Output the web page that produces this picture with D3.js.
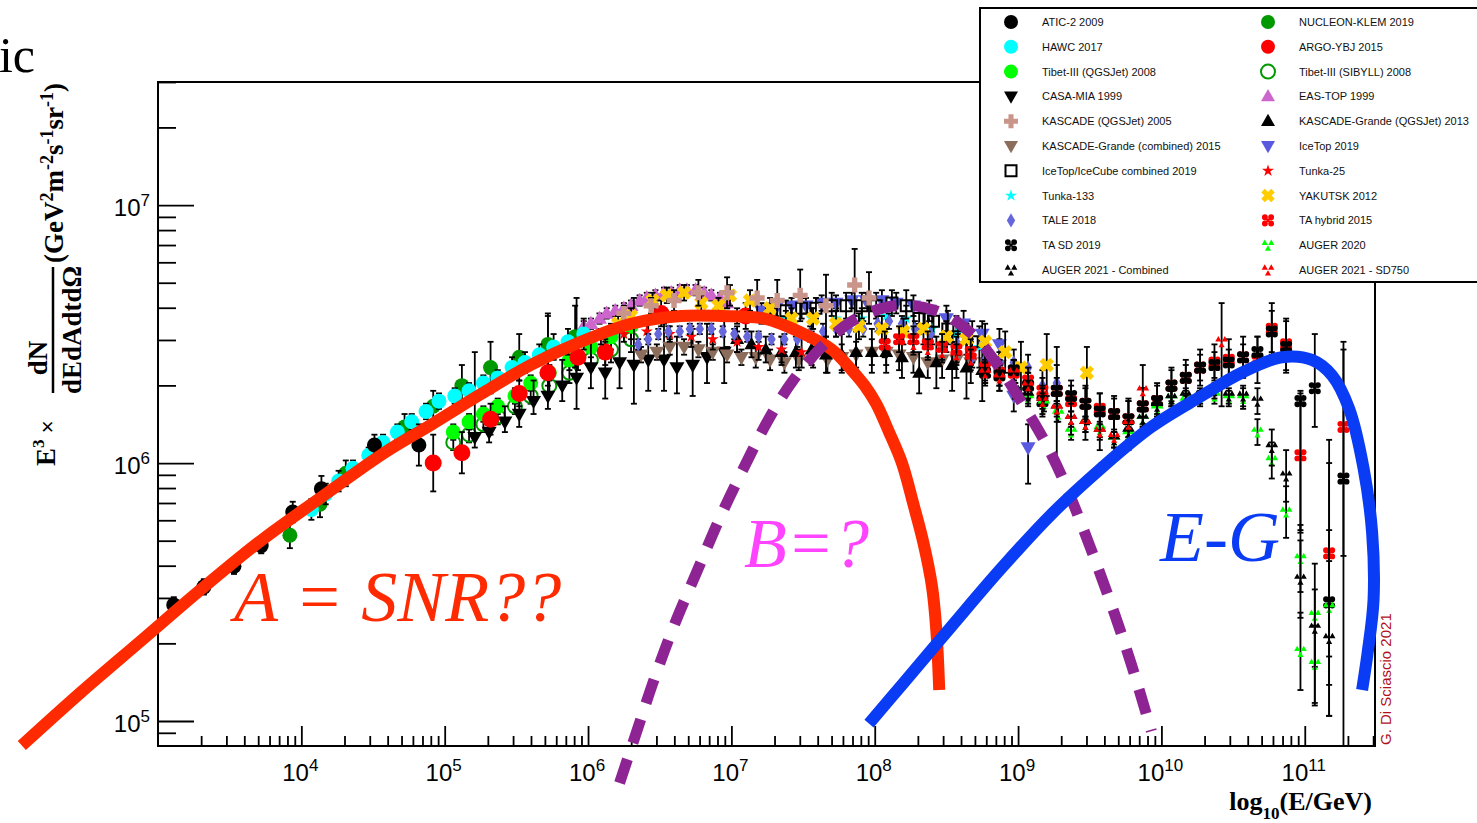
<!DOCTYPE html>
<html>
<head>
<meta charset="utf-8">
<script src="https://cdn.jsdelivr.net/npm/d3@7"></script>
<style>
  body { margin: 0; background: #fff; }
  svg { display: block; font-family: 'Liberation Sans', Arial, sans-serif; }
</style>
</head>
<body>
<svg id="chart" width="1477" height="823"></svg>
<script>
'use strict'

// every point: [log10(E/GeV), log10(E^3 flux), error down, error up]  (errors in dex)
var atic2009 = [[3.11,5.45,.03,.03],[3.32,5.52,.03,.03],[3.53,5.60,.03,.03],[3.72,5.68,.03,.03],[3.94,5.81,.04,.04],[4.14,5.90,.05,.05],[4.51,6.07,.04,.04],[4.82,6.07,.08,.08]];
var nucleon2019 = [[3.92,5.72,.05,.05],[4.13,5.84,.05,.05],[4.31,5.96,.05,.05],[4.72,6.14,.05,.05],[4.92,6.22,.06,.06],[5.12,6.30,.08,.08],[5.32,6.37,.1,.1],[5.52,6.41,.09,.09],[5.72,6.46,.11,.11],[5.91,6.49,.12,.12]];
var hawc2017 = [[4.07,5.82,.04,.04],[4.17,5.88,.04,.04],[4.26,5.93,.04,.04],[4.36,5.98,.03,.03],[4.47,6.03,.03,.03],[4.57,6.08,.03,.03],[4.67,6.12,.03,.03],[4.77,6.16,.03,.03],[4.87,6.20,.03,.03],[4.96,6.24,.03,.03],[5.07,6.26,.03,.03],[5.17,6.28,.03,.03],[5.27,6.31,.03,.03],[5.37,6.33,.03,.03],[5.47,6.37,.04,.04],[5.56,6.39,.04,.04],[5.66,6.42,.04,.04],[5.76,6.45,.05,.05],[5.86,6.47,.05,.05],[5.97,6.50,.06,.06]];
var argo2015 = [[4.92,6.00,.11,.11],[5.12,6.04,.08,.08],[5.32,6.17,.06,.06],[5.52,6.27,.05,.05],[5.72,6.35,.05,.05],[5.93,6.41,.05,.05],[6.12,6.43,.05,.05],[6.51,6.58,.05,.05],[7.10,6.57,.05,.05]];
var tibetQgs2008 = [[5.06,6.12,.03,.03],[5.17,6.16,.03,.03],[5.27,6.19,.03,.03],[5.37,6.22,.03,.03],[5.49,6.26,.03,.03],[5.60,6.31,.03,.03],[5.73,6.35,.03,.03],[5.87,6.40,.04,.04],[6.02,6.45,.04,.04],[6.16,6.49,.05,.05],[6.30,6.53,.05,.05]];
var tibetSib2008 = [[5.06,6.08,.03,.03],[5.17,6.11,.03,.03],[5.27,6.15,.03,.03],[5.37,6.18,.03,.03],[5.49,6.22,.03,.03],[5.60,6.26,.03,.03],[5.73,6.30,.03,.03],[5.87,6.35,.04,.04],[6.02,6.40,.04,.04],[6.16,6.44,.05,.05],[6.30,6.48,.05,.05]];
var casa1999 = [[5.21,6.10,.04,.33],[5.31,6.12,.04,.06],[5.42,6.16,.04,.06],[5.52,6.19,.05,.07],[5.62,6.24,.05,.08],[5.72,6.26,.05,.32],[5.82,6.30,.06,.1],[5.92,6.33,.12,.31],[6.02,6.37,.08,.1],[6.12,6.35,.1,.12],[6.22,6.39,.1,.12],[6.32,6.38,.15,.26],[6.42,6.40,.12,.15],[6.53,6.40,.12,.14],[6.62,6.37,.1,.12],[6.73,6.38,.12,.14],[6.83,6.41,.1,.13],[6.95,6.43,.12,.15]];
var eastop1999 = [[5.97,6.53,.02,.02],[6.02,6.54,.02,.02],[6.08,6.56,.02,.02],[6.13,6.58,.02,.02],[6.19,6.59,.02,.02],[6.25,6.60,.02,.02],[6.30,6.61,.02,.02],[6.36,6.63,.02,.02],[6.41,6.64,.02,.02],[6.47,6.65,.02,.02],[6.53,6.66,.02,.02],[6.58,6.66,.02,.02],[6.64,6.67,.02,.02],[6.69,6.67,.02,.02],[6.75,6.67,.02,.02],[6.81,6.66,.02,.02],[6.86,6.65,.02,.02],[6.92,6.64,.02,.02],[6.97,6.62,.02,.02]];
var kascade2005 = [[6.25,6.58,.03,.03],[6.44,6.61,.03,.03],[6.60,6.63,.04,.04],[6.77,6.66,.05,.05],[6.97,6.66,.06,.06],[7.18,6.64,.07,.07],[7.32,6.63,.08,.08],[7.48,6.65,.1,.1],[7.66,6.61,.12,.12],[7.86,6.69,.12,.14],[7.96,6.64,.1,.1]];
var kgQgs2013 = [[7.04,6.48,.05,.05],[7.14,6.46,.05,.05],[7.24,6.44,.05,.05],[7.35,6.43,.05,.06],[7.45,6.43,.06,.06],[7.56,6.44,.06,.07],[7.66,6.42,.07,.07],[7.77,6.42,.07,.08],[7.87,6.43,.08,.08],[7.98,6.43,.08,.09],[8.08,6.43,.08,.09],[8.19,6.41,.08,.1],[8.31,6.35,.08,.08],[8.43,6.39,.1,.1],[8.54,6.38,.1,.12],[8.64,6.37,.12,.12],[8.75,6.36,.12,.14]];
var kgComb2015 = [[6.37,6.42,.03,.03],[6.48,6.43,.03,.03],[6.57,6.45,.03,.03],[6.67,6.45,.03,.03],[6.77,6.44,.03,.03],[6.87,6.43,.03,.03],[6.97,6.42,.03,.03],[7.07,6.41,.03,.03],[7.17,6.41,.04,.04],[7.27,6.40,.04,.04],[7.37,6.39,.04,.04],[7.47,6.40,.04,.04],[7.57,6.41,.04,.04],[7.67,6.40,.05,.05],[7.77,6.41,.05,.05],[7.87,6.42,.05,.05],[7.98,6.43,.05,.05],[8.08,6.43,.05,.05],[8.17,6.42,.06,.06],[8.27,6.41,.06,.06],[8.37,6.39,.06,.06],[8.47,6.40,.07,.07],[8.57,6.40,.07,.07],[8.67,6.39,.08,.08],[8.77,6.39,.09,.09],[8.87,6.38,.1,.1]];
var icetop2019 = [[7.21,6.59,.03,.03],[7.31,6.60,.03,.03],[7.42,6.61,.03,.03],[7.52,6.61,.03,.03],[7.63,6.62,.03,.03],[7.73,6.62,.03,.03],[7.84,6.63,.03,.03],[7.94,6.63,.03,.03],[8.05,6.63,.04,.04],[8.15,6.62,.04,.04],[8.27,6.61,.04,.04],[8.38,6.59,.04,.04],[8.50,6.56,.05,.05],[8.62,6.54,.05,.05],[8.75,6.50,.05,.05],[8.87,6.46,.06,.06],[8.97,6.26,.06,.06],[9.07,6.06,.14,.09]];
var icecube2019 = [[7.28,6.58,.04,.04],[7.38,6.59,.04,.04],[7.49,6.60,.04,.04],[7.59,6.60,.04,.04],[7.70,6.61,.04,.05],[7.80,6.61,.05,.05],[7.91,6.61,.05,.05],[8.01,6.61,.05,.05],[8.12,6.62,.05,.05],[8.22,6.61,.05,.06],[8.31,6.56,.06,.06],[8.41,6.55,.06,.06],[8.51,6.52,.06,.07],[8.58,6.49,.07,.07],[8.68,6.47,.08,.08]];
var tunka25 = [[6.09,6.49,.03,.03],[6.25,6.50,.03,.03],[6.41,6.51,.03,.03],[6.57,6.50,.03,.03],[6.72,6.49,.04,.04],[6.87,6.48,.04,.04],[7.04,6.47,.04,.04],[7.19,6.45,.05,.05],[7.35,6.44,.05,.05],[7.49,6.43,.06,.06]];
var tunka133 = [[7.04,6.57,.03,.03],[7.21,6.57,.03,.03],[7.38,6.56,.03,.03],[7.56,6.56,.04,.04],[7.73,6.56,.04,.04],[7.91,6.56,.04,.04],[8.08,6.57,.05,.05],[8.22,6.56,.05,.05],[8.40,6.52,.06,.06],[8.57,6.50,.07,.07],[8.73,6.45,.08,.08]];
var yakutsk2012 = [[6.21,6.54,.03,.03],[6.30,6.57,.03,.03],[6.45,6.63,.03,.03],[6.55,6.65,.03,.03],[6.67,6.66,.03,.03],[6.79,6.62,.03,.03],[6.91,6.61,.03,.03],[6.99,6.65,.04,.04],[7.13,6.63,.04,.04],[7.27,6.60,.04,.04],[7.42,6.56,.04,.04],[7.57,6.56,.04,.04],[7.73,6.54,.05,.05],[7.89,6.53,.05,.05],[8.05,6.52,.05,.05],[8.20,6.51,.05,.05],[8.34,6.52,.06,.06],[8.50,6.49,.06,.06],[8.64,6.48,.06,.06],[8.77,6.47,.07,.07],[8.91,6.43,.08,.08],[9.02,6.37,.1,.1],[9.20,6.38,.12,.12],[9.48,6.35,.2,.1]];
var tale2018 = [[6.35,6.46,.02,.02],[6.42,6.48,.02,.02],[6.49,6.50,.02,.02],[6.56,6.51,.02,.02],[6.64,6.51,.02,.02],[6.71,6.52,.02,.02],[6.78,6.52,.02,.02],[6.86,6.52,.02,.02],[6.94,6.51,.02,.02],[7.02,6.50,.02,.02],[7.11,6.49,.02,.02],[7.19,6.49,.02,.02],[7.28,6.48,.02,.02],[7.37,6.48,.02,.02],[7.46,6.48,.03,.03],[7.55,6.50,.03,.03],[7.64,6.51,.03,.03],[7.73,6.52,.03,.03],[7.82,6.52,.03,.03],[7.92,6.52,.03,.03],[8.02,6.54,.03,.03],[8.10,6.55,.03,.03],[8.19,6.54,.03,.03],[8.28,6.52,.03,.03],[8.39,6.50,.03,.03],[8.49,6.48,.03,.03],[8.58,6.46,.04,.04],[8.68,6.41,.04,.04],[8.77,6.40,.04,.04],[8.87,6.39,.04,.04],[8.97,6.39,.05,.05],[9.07,6.37,.05,.05],[9.17,6.30,.06,.06],[9.27,6.31,.07,.07]];
var taHybrid2015 = [[8.07,6.46,.05,.05],[8.17,6.48,.05,.05],[8.27,6.48,.05,.05],[8.37,6.46,.05,.05],[8.47,6.45,.05,.05],[8.57,6.44,.05,.05],[8.67,6.43,.05,.05],[8.77,6.37,.05,.05],[8.87,6.35,.05,.05],[8.97,6.35,.05,.05],[9.07,6.32,.05,.05],[9.17,6.28,.05,.05],[9.27,6.28,.05,.05],[9.37,6.24,.06,.06],[9.47,6.23,.06,.06],[9.57,6.21,.06,.06],[9.67,6.19,.06,.06],[9.77,6.17,.07,.07],[9.87,6.22,.07,.07],[9.97,6.24,.07,.07],[10.07,6.30,.07,.07],[10.17,6.33,.07,.07],[10.27,6.37,.07,.07],[10.37,6.39,.07,.07],[10.47,6.40,.08,.08],[10.57,6.41,.08,.08],[10.67,6.40,.09,.09],[10.77,6.52,.1,.1],[10.87,6.46,.1,.1],[10.97,6.03,.3,.25],[11.17,5.65,.4,.35],[11.27,6.14,.5,.3]];
var taSd2019 = [[8.77,6.35,.04,.04],[8.87,6.34,.04,.04],[8.97,6.36,.04,.04],[9.07,6.30,.05,.05],[9.17,6.24,.06,.06],[9.27,6.28,.28,.17],[9.37,6.26,.06,.06],[9.47,6.23,.07,.07],[9.57,6.20,.07,.07],[9.67,6.19,.07,.07],[9.77,6.17,.07,.07],[9.87,6.22,.07,.07],[9.97,6.24,.06,.06],[10.07,6.30,.06,.06],[10.17,6.33,.05,.05],[10.27,6.37,.05,.05],[10.37,6.38,.05,.05],[10.47,6.39,.05,.05],[10.57,6.41,.05,.05],[10.67,6.43,.06,.06],[10.77,6.51,.08,.08],[10.87,6.45,.1,.1],[10.97,6.24,.5,.03],[11.07,6.29,.15,.21],[11.17,5.46,.44,.63],[11.27,5.94,1.1,.53]];
var auger2020 = [[8.98,6.28,.03,.03],[9.07,6.25,.03,.03],[9.18,6.23,.03,.03],[9.28,6.19,.03,.03],[9.37,6.12,.03,.03],[9.47,6.15,.03,.03],[9.57,6.13,.03,.03],[9.67,6.09,.03,.03],[9.77,6.11,.03,.03],[9.87,6.17,.03,.03],[9.97,6.21,.03,.03],[10.07,6.25,.03,.03],[10.17,6.24,.03,.03],[10.27,6.25,.03,.03],[10.37,6.26,.03,.03],[10.47,6.25,.03,.03],[10.57,6.25,.04,.04],[10.67,6.12,.05,.05],[10.77,6.01,.07,.07],[10.87,5.81,.1,.1],[10.97,5.63,.13,.13],[11.07,5.41,.2,.2],[11.17,5.44,.3,.3],[10.97,5.27,.15,.15],[11.07,5.22,.15,.15]];
var auger2021 = [[8.98,6.28,.03,.03],[9.07,6.26,.03,.03],[9.17,6.24,.03,.03],[9.27,6.21,.03,.03],[9.37,6.17,.03,.03],[9.47,6.15,.03,.03],[9.57,6.12,.03,.03],[9.67,6.09,.03,.03],[9.77,6.12,.03,.03],[9.87,6.17,.03,.03],[9.97,6.22,.03,.03],[10.07,6.25,.03,.03],[10.17,6.26,.03,.03],[10.27,6.26,.03,.03],[10.37,6.28,.03,.03],[10.47,6.26,.03,.03],[10.57,6.26,.04,.04],[10.67,6.24,.05,.05],[10.77,6.06,.07,.07],[10.87,5.95,.1,.1],[10.97,5.55,.15,.15],[11.07,5.36,.3,.15],[11.17,5.32,.3,.3]];
var augerSd750 = [[8.27,6.46,.04,.04],[8.37,6.44,.04,.04],[8.47,6.43,.04,.04],[8.57,6.42,.04,.04],[8.67,6.40,.04,.04],[8.77,6.35,.04,.04],[8.87,6.33,.05,.05],[8.97,6.35,.05,.05],[9.07,6.30,.05,.05],[9.17,6.24,.05,.05],[9.27,6.21,.05,.05],[9.37,6.17,.06,.06],[9.47,6.15,.06,.06],[9.57,6.12,.07,.07],[9.67,6.10,.08,.08],[9.77,6.15,.1,.1],[9.87,6.28,.1,.1],[10.42,6.47,.25,.15]];

// hand drawn model curves, [log10 E, log10 flux]
var curveSNR = [[2.05,4.905],[2.46,5.11],[2.88,5.31],[3.30,5.51],[3.72,5.70],[4.12,5.86],[4.58,6.04],[4.91,6.15],[5.26,6.27],[5.60,6.38],[5.95,6.47],[6.30,6.54],[6.65,6.57],[6.93,6.57],[7.23,6.56],[7.47,6.51],[7.70,6.44],[7.84,6.36],[7.93,6.30],[8.01,6.23],[8.10,6.12],[8.19,6.00],[8.27,5.84],[8.34,5.69],[8.40,5.52],[8.43,5.35],[8.45,5.12]];
var curveB = [[6.22,4.76],[6.34,4.96],[6.46,5.16],[6.60,5.37],[6.76,5.58],[6.93,5.80],[7.13,6.03],[7.26,6.17],[7.43,6.32],[7.63,6.45],[7.84,6.55],[8.14,6.61],[8.43,6.59],[8.68,6.50],[8.87,6.37],[9.02,6.24],[9.18,6.09],[9.32,5.93],[9.43,5.78],[9.54,5.62],[9.67,5.42],[9.79,5.22],[9.93,4.96]];
var curveEG = [[7.96,4.99],[8.19,5.14],[8.54,5.37],[8.88,5.59],[9.23,5.80],[9.58,5.98],[9.93,6.14],[10.28,6.26],[10.56,6.35],[10.84,6.41],[11.05,6.40],[11.19,6.34],[11.31,6.21],[11.41,5.98],[11.47,5.73],[11.48,5.47],[11.44,5.27],[11.40,5.12]];

var xTickExp = [4, 5, 6, 7, 8, 9, 10, 11];
var yTickExp = [5, 6, 7];

var legendCol1 = ['ATIC-2 2009', 'HAWC 2017', 'Tibet-III (QGSJet) 2008', 'CASA-MIA 1999', 'KASCADE (QGSJet) 2005',
  'KASCADE-Grande (combined) 2015', 'IceTop/IceCube combined 2019', 'Tunka-133', 'TALE 2018', 'TA SD 2019', 'AUGER 2021 - Combined'];
var legendCol2 = ['NUCLEON-KLEM 2019', 'ARGO-YBJ 2015', 'Tibet-III (SIBYLL) 2008', 'EAS-TOP 1999', 'KASCADE-Grande (QGSJet) 2013',
  'IceTop 2019', 'Tunka-25', 'YAKUTSK 2012', 'TA hybrid 2015', 'AUGER 2020', 'AUGER 2021 - SD750'];

// drawing order (later on top)
var series = [
  {name: 'EAS-TOP 1999', data: eastop1999, sym: 'tri', color: '#cc66cc', size: 15},
  {name: 'Tibet-III (SIBYLL) 2008', data: tibetSib2008, sym: 'ring', color: '#009900', size: 14},
  {name: 'Tibet-III (QGSJet) 2008', data: tibetQgs2008, sym: 'circle', color: '#00ff00', size: 15},
  {name: 'CASA-MIA 1999', data: casa1999, sym: 'tridown', color: '#000000', size: 15},
  {name: 'NUCLEON-KLEM 2019', data: nucleon2019, sym: 'circle', color: '#009900', size: 15},
  {name: 'HAWC 2017', data: hawc2017, sym: 'circle', color: '#00ffff', size: 15},
  {name: 'ATIC-2 2009', data: atic2009, sym: 'circle', color: '#000000', size: 15},
  {name: 'ARGO-YBJ 2015', data: argo2015, sym: 'circle', color: '#ff0000', size: 17},
  {name: 'KASCADE-Grande (combined) 2015', data: kgComb2015, sym: 'tridown', color: '#8c6d5c', size: 15},
  {name: 'KASCADE-Grande (QGSJet) 2013', data: kgQgs2013, sym: 'tri', color: '#000000', size: 14},
  {name: 'Tunka-25', data: tunka25, sym: 'star', color: '#ff0000', size: 10},
  {name: 'Tunka-133', data: tunka133, sym: 'star', color: '#00ffff', size: 10},
  {name: 'IceTop 2019', data: icetop2019, sym: 'tridown', color: '#5a5ae0', size: 15},
  {name: 'IceTop/IceCube combined 2019', data: icecube2019, sym: 'square', color: '#000000', size: 11},
  {name: 'TALE 2018', data: tale2018, sym: 'diamond', color: '#6666dd', size: 12},
  {name: 'YAKUTSK 2012', data: yakutsk2012, sym: 'xcross', color: '#ffcc00', size: 15},
  {name: 'KASCADE (QGSJet) 2005', data: kascade2005, sym: 'cross', color: '#c9958a', size: 15},
  {name: 'TA hybrid 2015', data: taHybrid2015, sym: 'clover', color: '#ff0000', size: 13},
  {name: 'TA SD 2019', data: taSd2019, sym: 'clover', color: '#000000', size: 13},
  {name: 'AUGER 2020', data: auger2020, sym: 'tri3', color: '#00ff00', size: 13},
  {name: 'AUGER 2021 - Combined', data: auger2021, sym: 'tri3', color: '#000000', size: 13},
  {name: 'AUGER 2021 - SD750', data: augerSd750, sym: 'tri3', color: '#ff0000', size: 13}
];

var svg = d3.select('#chart');
var frame = {left: 158, right: 1375, top: 82, bottom: 746};

var x = d3.scaleLog().domain([1e3, Math.pow(10, 11.49)]).range([frame.left, frame.right]);
var y = d3.scaleLog().domain([8e4, 3e7]).range([frame.bottom, frame.top]);

function circ(cx, cy, r) {
  return 'M' + (cx + r) + ',' + cy + 'A' + r + ',' + r + ' 0 1,1 ' + (cx - r) + ',' + cy +
         'A' + r + ',' + r + ' 0 1,1 ' + (cx + r) + ',' + cy + 'Z';
}
function triUp(cx, cy, a) {
  var h = a * 0.87;
  return 'M' + cx + ',' + (cy - h * 0.6) + 'L' + (cx + a / 2) + ',' + (cy + h * 0.4) + 'L' + (cx - a / 2) + ',' + (cy + h * 0.4) + 'Z';
}
function symPath(sym, s) {
  var r = s / 2;
  if (sym === 'circle' || sym === 'ring') return circ(0, 0, r);
  if (sym === 'tri') return 'M0,' + (-r * 1.05) + 'L' + r + ',' + (r * 0.7) + 'L' + (-r) + ',' + (r * 0.7) + 'Z';
  if (sym === 'tridown') return 'M0,' + (r * 1.05) + 'L' + r + ',' + (-r * 0.7) + 'L' + (-r) + ',' + (-r * 0.7) + 'Z';
  if (sym === 'diamond') return 'M0,' + (-r * 1.2) + 'L' + (r * 0.7) + ',0L0,' + (r * 1.2) + 'L' + (-r * 0.7) + ',0Z';
  if (sym === 'square') return 'M' + (-r) + ',' + (-r) + 'h' + s + 'v' + s + 'h' + (-s) + 'Z';
  if (sym === 'cross' || sym === 'xcross') {
    var t = r * 0.36;
    return 'M' + (-t) + ',' + (-r) + 'H' + t + 'V' + (-t) + 'H' + r + 'V' + t + 'H' + t + 'V' + r +
           'H' + (-t) + 'V' + t + 'H' + (-r) + 'V' + (-t) + 'H' + (-t) + 'Z';
  }
  if (sym === 'star') return d3.symbol(d3.symbolStar, s * s * 0.45)();
  if (sym === 'clover') {
    var q = r * 0.48, rr = r * 0.45;
    return circ(-q, -q, rr) + circ(q, -q, rr) + circ(-q, q, rr) + circ(q, q, rr) +
           'M' + (-r * 0.25) + ',' + (-r * 0.25) + 'h' + (r * 0.5) + 'v' + (r * 0.5) + 'h' + (-r * 0.5) + 'Z';
  }
  if (sym === 'tri3') {
    var a = r * 0.95;
    return triUp(-r * 0.5, -r * 0.38, a) + triUp(r * 0.5, -r * 0.38, a) + triUp(0, r * 0.52, a);
  }
  return circ(0, 0, r);
}
function styleMarker(sel, d) {
  sel.attr('d', symPath(d.sym, d.size));
  if (d.sym === 'ring' || d.sym === 'square') {
    sel.attr('fill', 'none').attr('stroke', d.color).attr('stroke-width', 2);
  } else {
    sel.attr('fill', d.color);
  }
}

// clip for data
svg.append('defs').append('clipPath').attr('id', 'frameClip')
  .append('rect').attr('x', frame.left).attr('y', frame.top)
  .attr('width', frame.right - frame.left).attr('height', frame.bottom - frame.top);

var dataG = svg.append('g').attr('clip-path', 'url(#frameClip)');

series.forEach(function(s) {
  var g = dataG.append('g').attr('class', 'series');
  var pts = g.selectAll('g.pt').data(s.data).enter().append('g').attr('class', 'pt');
  pts.append('line')
    .attr('x1', function(p) { return x(Math.pow(10, p[0])); })
    .attr('x2', function(p) { return x(Math.pow(10, p[0])); })
    .attr('y1', function(p) { return y(Math.pow(10, p[1] - p[2])); })
    .attr('y2', function(p) { return y(Math.pow(10, p[1] + p[3])); })
    .attr('stroke', '#000').attr('stroke-width', 1.8);
  [2, 3].forEach(function(k) {
    pts.append('line')
      .attr('x1', function(p) { return x(Math.pow(10, p[0])) - 3; })
      .attr('x2', function(p) { return x(Math.pow(10, p[0])) + 3; })
      .attr('y1', function(p) { return y(Math.pow(10, k === 2 ? p[1] - p[2] : p[1] + p[3])); })
      .attr('y2', function(p) { return y(Math.pow(10, k === 2 ? p[1] - p[2] : p[1] + p[3])); })
      .attr('stroke', '#000').attr('stroke-width', 1.8);
  });
  pts.append('path')
    .attr('transform', function(p) {
      return 'translate(' + x(Math.pow(10, p[0])) + ',' + y(Math.pow(10, p[1])) + ')' + (s.sym === 'xcross' ? ' rotate(45)' : '');
    })
    .call(styleMarker, s);
});

// frame
svg.append('rect').attr('x', frame.left).attr('y', frame.top)
  .attr('width', frame.right - frame.left).attr('height', frame.bottom - frame.top)
  .attr('fill', 'none').attr('stroke', '#000').attr('stroke-width', 2);

// x axis ticks
var xMinor = [], yMinor = [];
for (var n = 3; n <= 11; n++) {
  for (var k = 2; k <= 9; k++) {
    var v = k * Math.pow(10, n);
    if (v < x.domain()[1]) xMinor.push(v);
  }
}
for (var m = 4; m <= 7; m++) {
  for (var j = 2; j <= 9; j++) {
    var w = j * Math.pow(10, m);
    if (w > y.domain()[0] && w <= y.domain()[1]) yMinor.push(w);
  }
}
var xMajor = xTickExp.map(function(e) { return Math.pow(10, e); });
var yMajor = yTickExp.map(function(e) { return Math.pow(10, e); });

function cleanAxis(g) {
  g.select('.domain').remove();
  g.selectAll('line').attr('stroke', '#000').attr('stroke-width', 1.8);
}
svg.append('g').attr('transform', 'translate(0,' + frame.bottom + ')')
  .call(d3.axisBottom(x).tickValues(xMinor).tickSize(-10).tickSizeOuter(0).tickFormat(''))
  .call(cleanAxis);
svg.append('g').attr('transform', 'translate(0,' + frame.bottom + ')')
  .call(d3.axisBottom(x).tickValues(xMajor).tickSize(-20).tickSizeOuter(0).tickFormat(''))
  .call(cleanAxis);
svg.append('g').attr('transform', 'translate(' + frame.left + ',0)')
  .call(d3.axisLeft(y).tickValues(yMinor).tickSize(-18).tickSizeOuter(0).tickFormat(''))
  .call(cleanAxis);
svg.append('g').attr('transform', 'translate(' + frame.left + ',0)')
  .call(d3.axisLeft(y).tickValues(yMajor).tickSize(-36).tickSizeOuter(0).tickFormat(''))
  .call(cleanAxis);

// tick labels
var xl = svg.selectAll('text.xlab').data(xTickExp).enter().append('text').attr('class', 'xlab')
  .attr('x', function(e) { return x(Math.pow(10, e)) - 1; })
  .attr('y', 781).attr('text-anchor', 'middle').attr('font-size', 24).attr('fill', '#000');
xl.append('tspan').text('10');
xl.append('tspan').attr('dy', -10).attr('font-size', 17).text(function(e) { return e; });

var yl = svg.selectAll('text.ylab').data(yTickExp).enter().append('text').attr('class', 'ylab')
  .attr('x', 150).attr('y', function(e) { return y(Math.pow(10, e)) + 11; })
  .attr('text-anchor', 'end').attr('font-size', 24).attr('fill', '#000');
yl.append('tspan').text('10');
yl.append('tspan').attr('dy', -10).attr('font-size', 17).text(function(e) { return e; });

// axis titles
var serif = "'Liberation Serif', 'Times New Roman', serif";
var xt = svg.append('text').attr('x', 1372).attr('y', 810).attr('text-anchor', 'end')
  .style('font-family', serif).attr('font-weight', 'bold').attr('font-size', 26);
xt.append('tspan').text('log');
xt.append('tspan').attr('dy', 9).attr('font-size', 17).text('10');
xt.append('tspan').attr('dy', -9).text('(E/GeV)');

var yt = svg.append('g').attr('transform', 'rotate(-90)')
  .style('font-family', serif).attr('font-weight', 'bold');
var e3 = yt.append('text').attr('x', -466).attr('y', 55).attr('font-size', 27);
e3.append('tspan').text('E');
e3.append('tspan').attr('dy', -11).attr('font-size', 17).text('3');
e3.append('tspan').attr('dy', 11).attr('font-weight', 'normal').style('font-family', "'Liberation Sans', Arial, sans-serif")
  .attr('font-size', 22).text(' \u00d7');
yt.append('text').attr('x', -358).attr('y', 47).attr('text-anchor', 'middle').attr('font-size', 27).text('dN');
yt.append('line').attr('x1', -393).attr('x2', -267).attr('y1', 53).attr('y2', 53)
  .attr('stroke', '#000').attr('stroke-width', 2.5);
yt.append('text').attr('x', -330).attr('y', 81).attr('text-anchor', 'middle').attr('font-size', 27).text('dEdAdtd\u03a9');
var un = yt.append('text').attr('x', -263).attr('y', 63).attr('font-size', 27);
[['(GeV', 0], ['2', 1], ['m', 0], ['-2', 1], ['s', 0], ['-1', 1], ['sr', 0], ['-1', 1], [')', 0]].forEach(function(p, i, arr) {
  var prev = i > 0 ? arr[i - 1][1] : 0;
  var dy = (p[1] - prev) * -10;
  un.append('tspan').attr('dy', dy).attr('font-size', p[1] ? 18 : 27).text(p[0]);
});

// model curves
var line = d3.line()
  .x(function(d) { return x(Math.pow(10, d[0])); })
  .y(function(d) { return y(Math.pow(10, d[1])); })
  .curve(d3.curveCatmullRom.alpha(0.5));

svg.append('path').datum(curveSNR).attr('d', line)
  .attr('fill', 'none').attr('stroke', '#ff2a00').attr('stroke-width', 12);
svg.append('path').datum(curveB).attr('d', line)
  .attr('fill', 'none').attr('stroke', '#8e2494').attr('stroke-width', 11)
  .attr('stroke-dasharray', '25,17');
svg.append('path').datum(curveEG).attr('d', line)
  .attr('fill', 'none').attr('stroke', '#0a3cf5').attr('stroke-width', 12);

// annotations
svg.append('text').attr('x', 234).attr('y', 621).style('font-family', serif).attr('font-style', 'italic')
  .attr('font-size', 72).attr('fill', '#ff2a00').text('A = SNR??');
svg.append('text').attr('x', 744).attr('y', 567).style('font-family', serif).attr('font-style', 'italic')
  .attr('font-size', 70).attr('fill', '#ff44ff').text('B=?');
svg.append('text').attr('x', 1160).attr('y', 561).style('font-family', serif).attr('font-style', 'italic')
  .attr('font-size', 72).attr('fill', '#0a3cf5').text('E-G');
svg.append('text').attr('transform', 'translate(1391,745) rotate(-90)')
  .attr('font-size', 15).attr('fill', '#b0101a').text('G. Di Sciascio 2021');
svg.append('text').attr('x', 35).attr('y', 72).attr('text-anchor', 'end').style('font-family', serif)
  .attr('font-size', 50).attr('fill', '#000').text('ic');

// legend
var byName = {};
series.forEach(function(s) { byName[s.name] = s; });
var lg = svg.append('g');
lg.append('rect').attr('x', 980).attr('y', 8).attr('width', 520).attr('height', 274)
  .attr('fill', '#fff').attr('stroke', '#000').attr('stroke-width', 2);
[[legendCol1, 1011, 1042], [legendCol2, 1268, 1299]].forEach(function(col) {
  var rows = lg.selectAll(null).data(col[0]).enter().append('g')
    .attr('transform', function(nm, i) { return 'translate(0,' + (22 + i * 24.8) + ')'; });
  rows.append('path')
    .each(function(nm) {
      var s = byName[nm];
      d3.select(this)
        .attr('transform', 'translate(' + col[1] + ',0)' + (s.sym === 'xcross' ? ' rotate(45)' : ''))
        .call(styleMarker, Object.assign({}, s, {size: Math.min(s.size, 14)}));
    });
  rows.append('text').attr('x', col[2]).attr('y', 4).attr('font-size', 11).attr('fill', '#111')
    .text(function(nm) { return nm; });
});
</script>
</body>
</html>
